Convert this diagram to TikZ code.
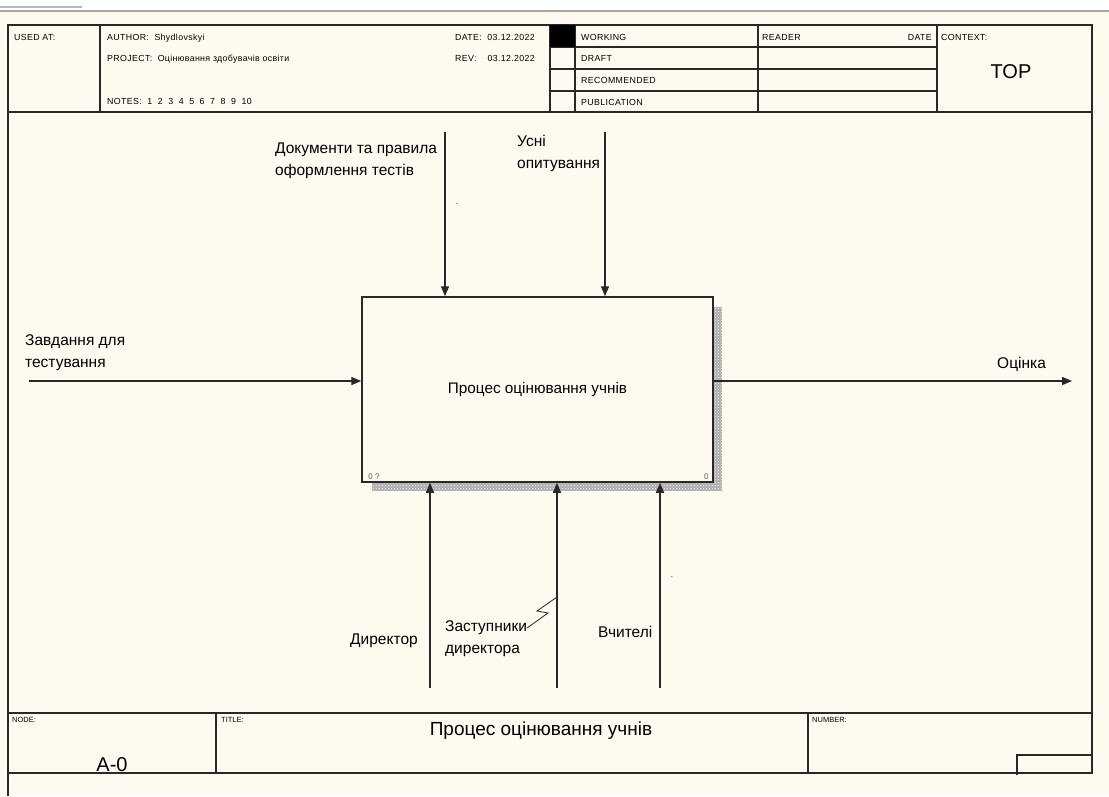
\documentclass[tikz,border=0pt]{standalone}
\usepackage{fontspec}
\setmainfont{Liberation Sans}
\usetikzlibrary{arrows.meta, calc, patterns}
\definecolor{paper}{RGB}{255,250,240}
\definecolor{ink}{RGB}{40,40,40}

\begin{document}
\begin{tikzpicture}[x=1pt, y=-1pt,
    frame/.style={draw=ink, line width=1.6pt},
    cell/.style={draw=ink, line width=1.2pt},
    hdr/.style={anchor=base west, inner sep=0pt,
                font=\fontsize{8.8}{10}\selectfont\addfontfeature{LetterSpace=4}},
    small/.style={anchor=base west, inner sep=0pt, font=\fontsize{7.5}{9}\selectfont},
    lbl/.style={anchor=north west, inner sep=0pt, align=left, font=\fontsize{15.5}{22}\selectfont},
    big/.style={inner sep=0pt, font=\fontsize{20}{24}\selectfont},
    activity/.style={draw=ink, line width=1.5pt, fill=paper, minimum width=351pt,
                     minimum height=185pt, inner sep=0pt, font=\fontsize{15.3}{18}\selectfont},
    arr/.style={draw=ink, line width=1.4pt, -{Triangle[length=10pt, width=8pt]}},
    shade/.style={preaction={fill=gray!65}, pattern=crosshatch dots, pattern color=white}
]
    \useasboundingbox (0,0) rectangle (1109,796);

    % --- Page ---
    \fill[paper] (0,0) rectangle (1109,796);
    \fill[white] (0,0) rectangle (1109,10);
    \draw[gray!70, line width=2pt] (0,11) -- (1109,11);
    \draw[gray!55, line width=2pt] (0,7) -- (82,7);

    % --- Frame ---
    \draw[frame] (8,796) -- (8,25) -- (1092,25) -- (1092,773) -- (8,773);
    \draw[frame] (8,112) -- (1092,112);
    \draw[frame] (8,713) -- (1092,713);

    % --- Header cells ---
    \foreach \x in {100, 550, 575, 758, 937}
        \draw[cell] (\x,25) -- (\x,112);
    \foreach \y in {47, 69, 91}
        \draw[cell] (550,\y) -- (937,\y);
    \fill[black] (550,25) rectangle (575,47);

    \node[hdr] (usedat)  at (14,40)  {USED AT:};
    \node[hdr] (author)  at (107,40) {AUTHOR:\ \ Shydlovskyi};
    \node[hdr] (project) at (107,61) {PROJECT:\ \ Оцінювання здобувачів освіти};
    \node[hdr] (notes)   at (107,104) {NOTES:\ \ 1\ \ 2\ \ 3\ \ 4\ \ 5\ \ 6\ \ 7\ \ 8\ \ 9\ \ 10};
    \node[hdr] (date)    at (455,40) {DATE:\ \ 03.12.2022};
    \node[hdr] (rev)     at (455,61) {REV:\ \ \ \ 03.12.2022};
    \node[hdr] (working) at (581,40)  {WORKING};
    \node[hdr] (draft)   at (581,61)  {DRAFT};
    \node[hdr] (recomm)  at (581,83)  {RECOMMENDED};
    \node[hdr] (publ)    at (581,105) {PUBLICATION};
    \node[hdr] (reader)  at (762,40)  {READER};
    \node[hdr, anchor=base east] (rdate) at (932,40) {DATE};
    \node[hdr] (context) at (941,40)  {CONTEXT:};
    \node[big] (top)     at (1011,72) {TOP};

    % --- Footer cells ---
    \draw[cell] (216,713) -- (216,773);
    \draw[cell] (808,713) -- (808,773);
    \draw[cell] (1017,775) -- (1017,755) -- (1092,755);

    \node[small] (nodelbl)  at (12,722)  {NODE:};
    \node[small] (titlelbl) at (221,722) {TITLE:};
    \node[small] (numlbl)   at (812,722) {NUMBER:};
    \node[big] (nodenum) at (112,765) {A-0};
    \node[big, font=\fontsize{19}{23}\selectfont] (title) at (541,731) {Процес оцінювання учнів};

    % --- Activity ---
    \fill[shade] (713,307) rectangle (722,491);
    \fill[shade] (372,482) rectangle (722,491);
    \node[activity] (proc) at (537.5,389.5) {\raisebox{3pt}{Процес оцінювання учнів}};
    \node[small, font=\fontsize{8}{9}\selectfont, text=gray!70!black] (pnum)
        at ($(proc.south west)+(7,-3)$) {0 ?};
    \node[small, font=\fontsize{8}{9}\selectfont, text=gray!70!black, anchor=base east] (pcost)
        at ($(proc.south east)+(-5,-3)$) {0};

    % --- Inputs and outputs ---
    \coordinate (inS)  at (29,381);
    \coordinate (outE) at (1072,381);
    \draw[arr] (inS) -- (inS -| proc.west);
    \draw[arr] (outE -| proc.east) -- (outE);
    \node[lbl] (inlbl)  at (25,334)  {Завдання для\\тестування};
    \node[lbl] (outlbl) at (997,357) {Оцінка};

    % --- Controls ---
    \coordinate (c1) at (445,132);
    \coordinate (c2) at (605,132);
    \draw[arr] (c1) -- (c1 |- proc.north);
    \draw[arr] (c2) -- (c2 |- proc.north);
    \node[lbl] (c1lbl) at (275,143) {Документи та правила\\оформлення тестів};
    \node[lbl] (c2lbl) at (517,135) {Усні\\опитування};
    \node[inner sep=0pt, font=\fontsize{8}{9}\selectfont] (c1dot) at (457,204) {.};

    % --- Mechanisms ---
    \coordinate (m1) at (430,688);
    \coordinate (m2) at (557,688);
    \coordinate (m3) at (660,688);
    \draw[arr] (m1) -- (m1 |- proc.south);
    \draw[arr] (m2) -- (m2 |- proc.south);
    \draw[arr] (m3) -- (m3 |- proc.south);
    \node[lbl] (m1lbl) at (350,634) {Директор};
    \node[lbl] (m2lbl) at (445,620) {Заступники\\директора};
    \node[lbl] (m3lbl) at (598,626) {Вчителі};
    \node[inner sep=0pt, font=\fontsize{8}{9}\selectfont] (m3dot) at (672,577) {.};
    \draw[ink, line width=0.8pt] (m2 |- 0,597) -- (537,611) -- (548,613) -- (527,628);
\end{tikzpicture}
\end{document}
